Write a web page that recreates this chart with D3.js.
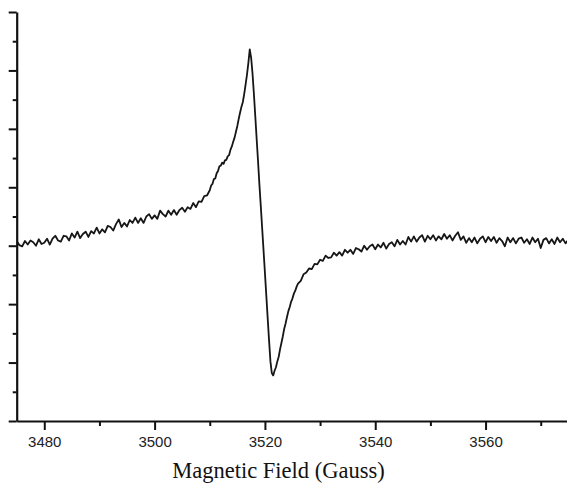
<!DOCTYPE html>
<html>
<head>
<meta charset="utf-8">
<script src="https://cdn.jsdelivr.net/npm/d3@7"></script>
<style>
  html, body { margin: 0; padding: 0; background: #fff; }
  svg { display: block; }
</style>
</head>
<body>
<svg id="chart" width="567" height="483"></svg>
<script>
// ---- Data (field in Gauss, signal in arbitrary units) ----
const lowFieldWing = [
  [3475,0.08],[3475.5,0.01],[3476,-0.01],[3476.5,0.08],[3477,0.02],[3477.5,0.09],[3478,0.06],[3478.5,0.00],
  [3479,0.11],[3479.5,0.03],[3480,0.05],[3480.5,0.12],[3481,0.02],[3481.5,0.12],[3482,0.17],[3482.5,0.09],
  [3483,0.07],[3483.5,0.17],[3484,0.16],[3484.5,0.09],[3485,0.21],[3485.5,0.14],[3486,0.24],[3486.5,0.13],
  [3487,0.20],[3487.5,0.24],[3488,0.15],[3488.5,0.25],[3489,0.21],[3489.5,0.31],[3490,0.21],[3490.5,0.28],
  [3491,0.23],[3491.5,0.34],[3492,0.32],[3492.5,0.26],[3493,0.37],[3493.5,0.45],[3494,0.32],[3494.5,0.39],
  [3495,0.33],[3495.5,0.44],[3496,0.39],[3496.5,0.48],[3497,0.39],[3497.5,0.47],[3498,0.39],[3498.5,0.50],
  [3499,0.54],[3499.5,0.46],[3500,0.52],[3500.5,0.46],[3501,0.60],[3501.5,0.54],[3502,0.50],[3502.5,0.60],
  [3503,0.53],[3503.5,0.61],[3504,0.53],[3504.5,0.61],[3505,0.65],[3505.5,0.58],[3506,0.66],[3506.5,0.63],
  [3507,0.73],[3507.5,0.66],[3508,0.76],[3508.5,0.75],[3509,0.85],[3509.5,0.86]
];
const centralLine = [
  [3510,0.95],[3510.25,1.03],[3510.5,1.06],[3510.75,1.14],[3511,1.15],[3511.25,1.24],[3511.5,1.28],[3511.75,1.36],
  [3512,1.37],[3512.25,1.42],[3512.5,1.40],[3512.75,1.46],[3513,1.47],[3513.25,1.53],[3513.5,1.55],[3513.75,1.64],
  [3514,1.70],[3514.25,1.78],[3514.5,1.85],[3514.75,1.95],[3515,2.05],[3515.25,2.17],[3515.5,2.28],[3515.75,2.38],
  [3516,2.46],[3516.25,2.60],[3516.5,2.76],[3516.75,2.93],[3517,3.13],[3517.25,3.36],[3517.5,3.22],[3517.75,2.95],
  [3518,2.60],[3518.25,2.22],[3518.5,1.83],[3518.75,1.45],[3519,1.05],[3519.25,0.68],[3519.5,0.30],[3519.75,-0.08],
  [3520,-0.46],[3520.25,-0.85],[3520.5,-1.24],[3520.75,-1.62],[3521,-1.98],[3521.25,-2.18],[3521.5,-2.22],[3521.75,-2.14],
  [3522,-2.08],[3522.25,-1.98],[3522.5,-1.90],[3522.75,-1.77],[3523,-1.66],[3523.25,-1.55],[3523.5,-1.42],[3523.75,-1.33],
  [3524,-1.22],[3524.25,-1.12],[3524.5,-1.05],[3524.75,-0.96],[3525,-0.90],[3525.25,-0.82],[3525.5,-0.77],[3525.75,-0.70]
];
const highFieldWing = [
  [3526,-0.65],[3526.5,-0.60],[3527,-0.49],[3527.5,-0.46],[3528,-0.39],[3528.5,-0.40],[3529,-0.31],[3529.5,-0.32],
  [3530,-0.24],[3530.5,-0.26],[3531,-0.17],[3531.5,-0.21],[3532,-0.20],[3532.5,-0.12],[3533,-0.17],[3533.5,-0.11],
  [3534,-0.17],[3534.5,-0.07],[3535,-0.12],[3535.5,-0.07],[3536,-0.14],[3536.5,-0.04],[3537,-0.06],[3537.5,-0.10],
  [3538,0.00],[3538.5,-0.07],[3539,-0.01],[3539.5,0.02],[3540,-0.06],[3540.5,0.02],[3541,-0.03],[3541.5,0.05],
  [3542,-0.05],[3542.5,0.03],[3543,0.06],[3543.5,-0.01],[3544,0.10],[3544.5,0.02],[3545,0.08],[3545.5,0.02],
  [3546,0.15],[3546.5,0.07],[3547,0.16],[3547.5,0.07],[3548,0.14],[3548.5,0.18],[3549,0.07],[3549.5,0.17],
  [3550,0.11],[3550.5,0.18],[3551,0.09],[3551.5,0.16],[3552,0.11],[3552.5,0.20],[3553,0.12],[3553.5,0.18],
  [3554,0.09],[3554.5,0.17],[3555,0.23],[3555.5,0.10],[3556,0.16],[3556.5,0.05],[3557,0.13],[3557.5,0.06],
  [3558,0.14],[3558.5,0.04],[3559,0.12],[3559.5,0.16],[3560,0.06],[3560.5,0.15],[3561,0.08],[3561.5,0.15],
  [3562,0.05],[3562.5,0.13],[3563,0.08],[3563.5,-0.01],[3564,0.14],[3564.5,0.06],[3565,0.13],[3565.5,0.04],
  [3566,0.12],[3566.5,0.14],[3567,0.05],[3567.5,0.11],[3568,0.03],[3568.5,0.14],[3569,0.06],[3569.5,0.12],
  [3570,-0.04],[3570.5,0.10],[3571,0.13],[3571.5,0.04],[3572,0.11],[3572.5,0.03],[3573,0.14],[3573.5,0.06],
  [3574,0.12],[3574.5,0.04],[3575,0.10]
];
const xMajorTicks = [3480, 3500, 3520, 3540, 3560];
const xMinorTicks = [3490, 3510, 3530, 3550, 3570];
const yMajorTicks = [-3, -2, -1, 0, 1, 2, 3, 4];
const yMinorTicks = [-2.5, -1.5, -0.5, 0.5, 1.5, 2.5, 3.5];
const xTitle = "Magnetic Field (Gauss)";

// ---- Layout ----
const svg = d3.select("#chart");
const W = 567, H = 483;
const plotLeft = 16.7, plotRight = 568.3, plotTop = 12, plotBottom = 421;

const x = d3.scaleLinear().domain([3475, 3575]).range([plotLeft, plotRight]);
const y = d3.scaleLinear().domain([-3, 4]).range([plotBottom, plotTop]);

const spectrum = lowFieldWing.concat(centralLine, highFieldWing);

svg.append("defs").append("clipPath").attr("id", "clip")
  .append("rect").attr("x", plotLeft).attr("y", 0).attr("width", W - plotLeft).attr("height", plotBottom);

// curve
const line = d3.line().x(d => x(d[0])).y(d => y(d[1]));
svg.append("path")
  .datum(spectrum)
  .attr("clip-path", "url(#clip)")
  .attr("fill", "none")
  .attr("stroke", "#161616")
  .attr("stroke-width", 1.8)
  .attr("stroke-linejoin", "round")
  .attr("d", line);

// y axis (no labels)
const gy = svg.append("g").attr("transform", `translate(${plotLeft},0)`);
gy.call(d3.axisLeft(y).tickValues(yMajorTicks).tickFormat("").tickSize(8).tickSizeOuter(0));
gy.append("g").call(d3.axisLeft(y).tickValues(yMinorTicks).tickFormat("").tickSize(4).tickSizeOuter(0))
  .select(".domain").remove();

// x axis
const gx = svg.append("g").attr("transform", `translate(0,${plotBottom})`);
gx.call(d3.axisBottom(x).tickValues(xMajorTicks).tickFormat(d3.format("d")).tickSize(9).tickSizeOuter(0));
gx.append("g").call(d3.axisBottom(x).tickValues(xMinorTicks).tickFormat("").tickSize(5).tickSizeOuter(0))
  .select(".domain").remove();

svg.selectAll(".domain").attr("stroke", "#111").attr("stroke-width", 2.2);
svg.selectAll(".tick line").attr("stroke", "#111").attr("stroke-width", 2);
gx.selectAll(".tick text")
  .attr("font-family", "'Liberation Sans', Arial, sans-serif")
  .attr("font-size", 15)
  .attr("fill", "#222")
  .attr("dy", null)
  .attr("y", 26);

// x title
svg.append("text")
  .attr("x", 278.5)
  .attr("y", 478)
  .attr("text-anchor", "middle")
  .attr("font-family", "'Liberation Serif', 'Times New Roman', serif")
  .attr("font-size", 22.5)
  .attr("fill", "#111")
  .text(xTitle);
</script>
</body>
</html>
